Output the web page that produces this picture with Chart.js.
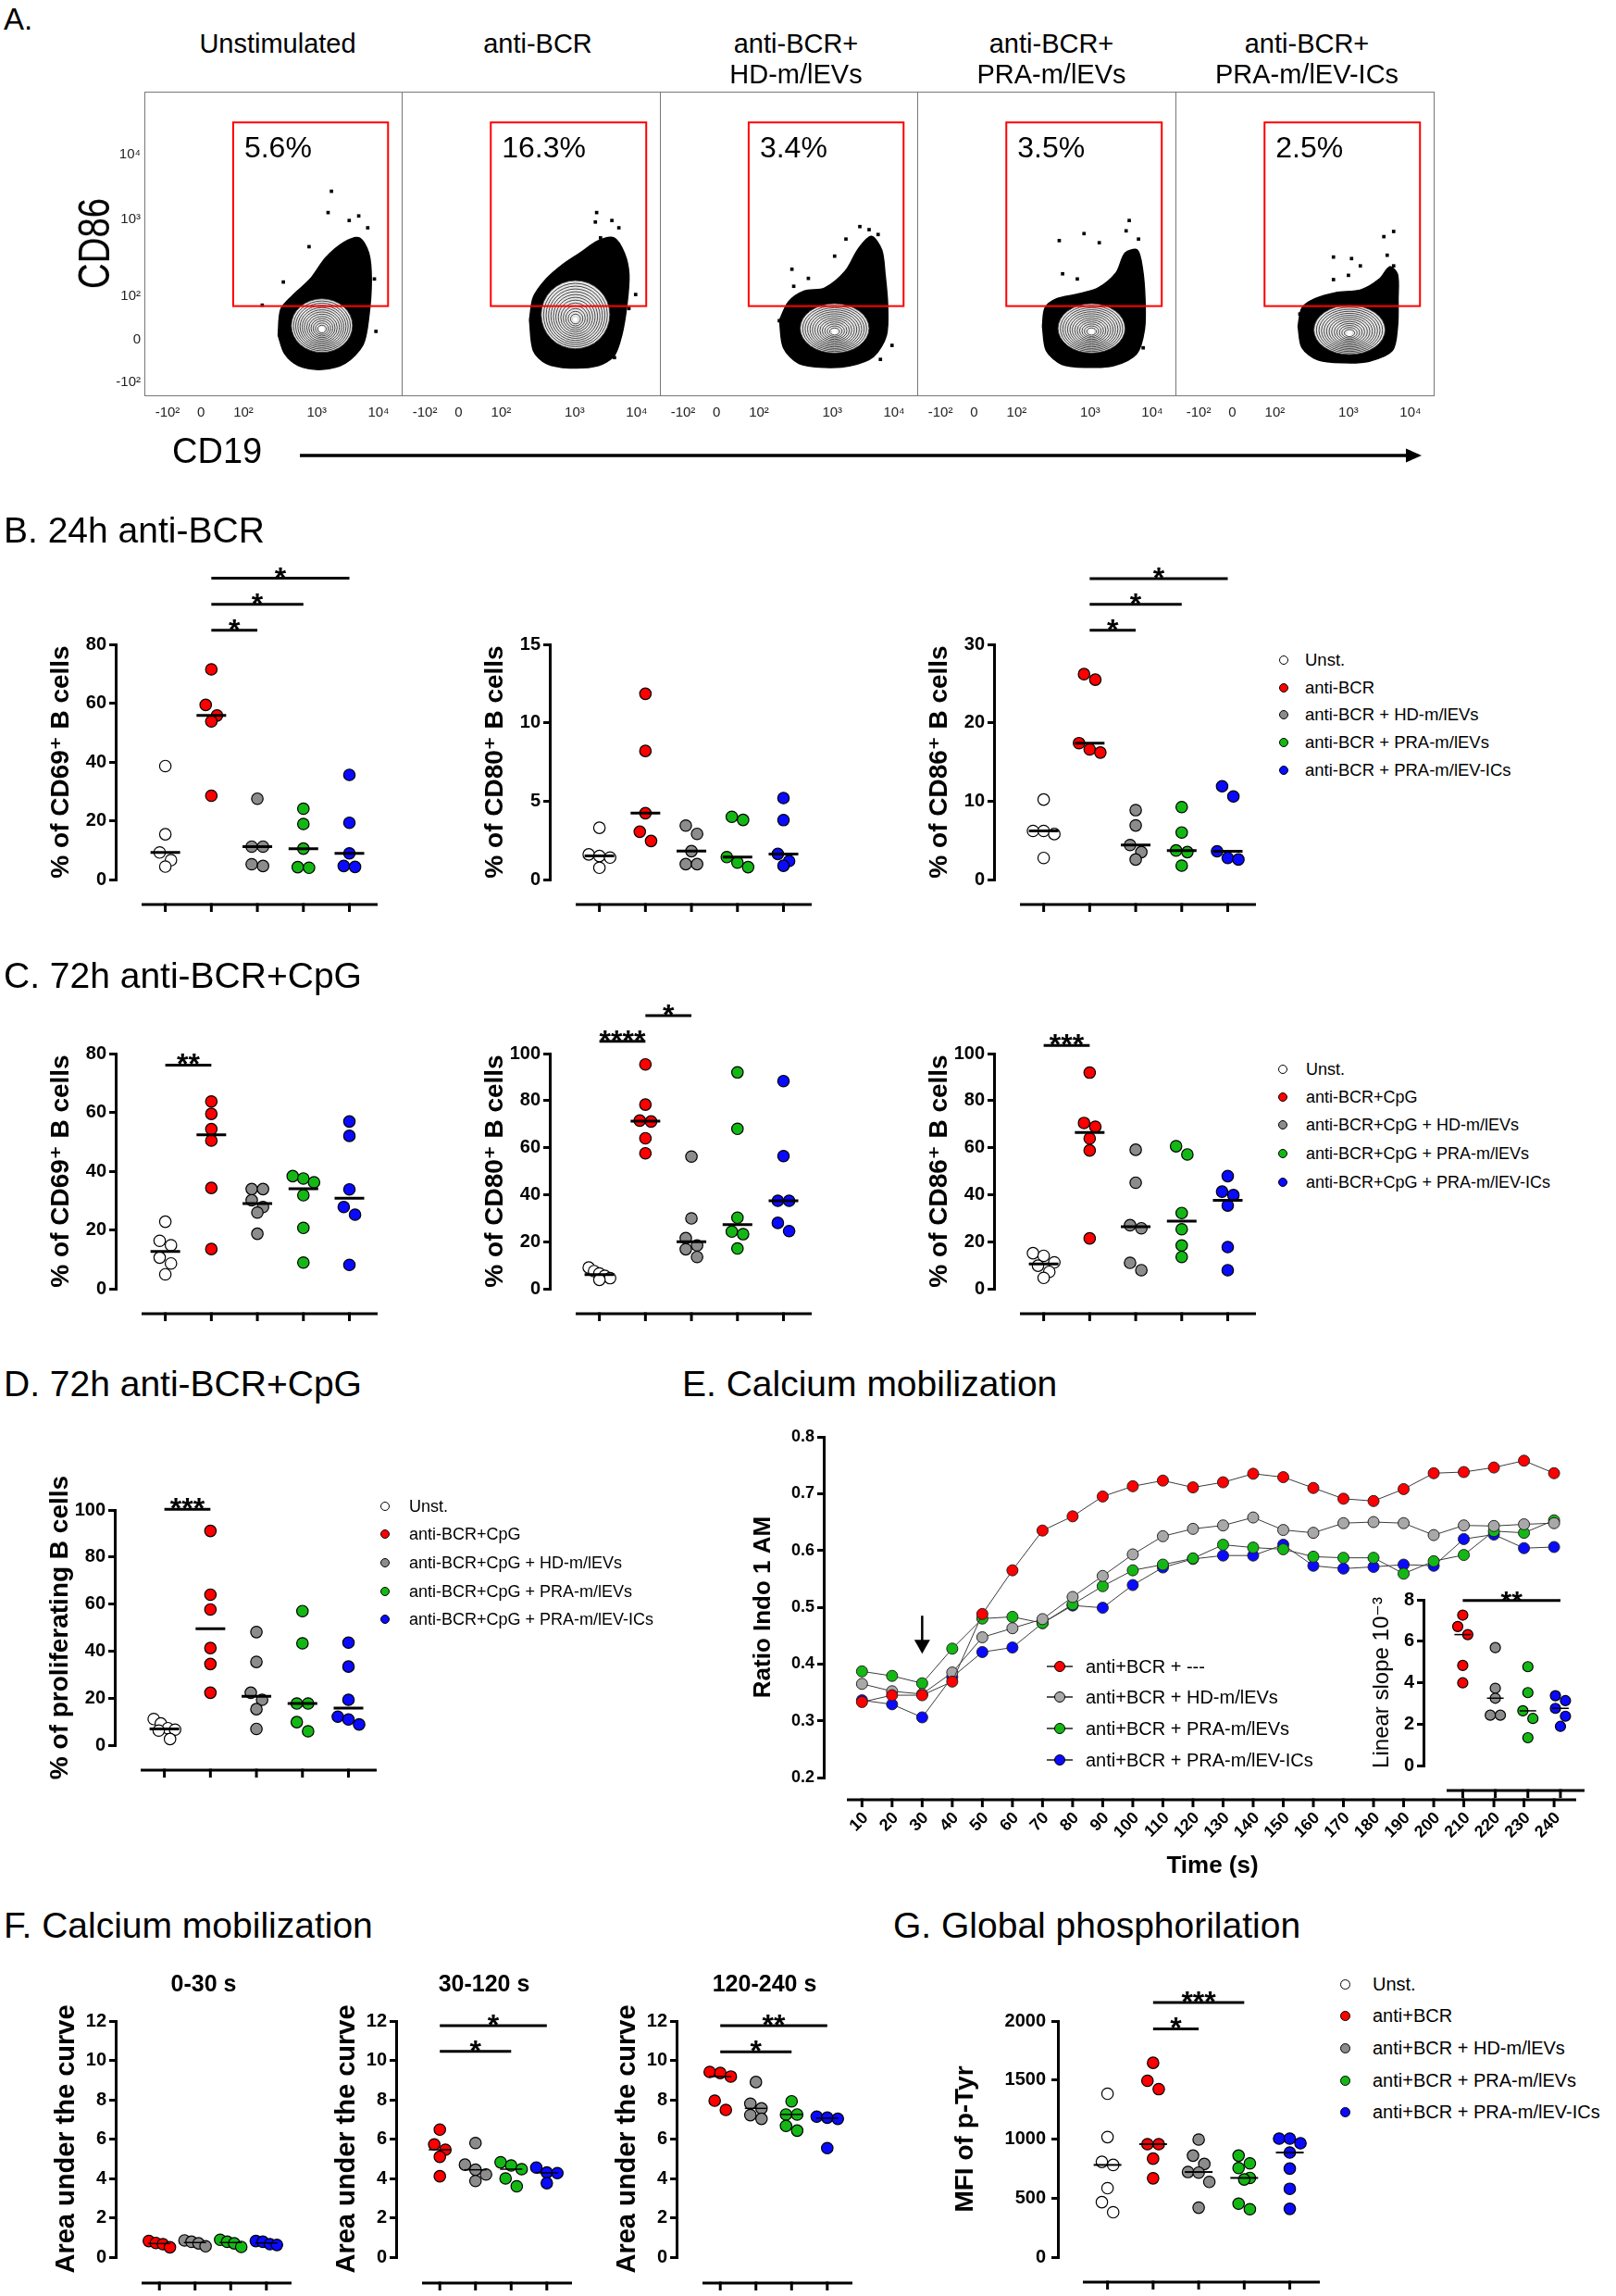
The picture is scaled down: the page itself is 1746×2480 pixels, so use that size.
<!DOCTYPE html>
<html>
<head>
<meta charset="utf-8">
<script src="https://cdn.jsdelivr.net/npm/chart.js@4.4.1/dist/chart.umd.min.js"></script>
<style>
  body { margin: 0; background: #fff; }
  #page { position: relative; width: 1746px; height: 2480px; overflow: hidden; background: #fff;
          font-family: 'Liberation Sans', Arial, 'DejaVu Sans', sans-serif; color: #000; }
  canvas { position: absolute; }
  .t { position: absolute; white-space: nowrap; line-height: 1; }
</style>
</head>
<body>
<div id="page"></div>
<script>
const FONT = "'Liberation Sans', Arial, 'DejaVu Sans', sans-serif";
Chart.defaults.font.family = FONT;
Chart.defaults.color = '#000';

// ---------- A. flow cytometry (values in display units 0-1000 of the biexponential axes)
const flowTitles = [['Unstimulated'], ['anti-BCR'], ['anti-BCR+', 'HD-m/lEVs'], ['anti-BCR+', 'PRA-m/lEVs'], ['anti-BCR+', 'PRA-m/lEV-ICs']];
const flowPct = ['5.6%', '16.3%', '3.4%', '3.5%', '2.5%'];
const flowXTicks = [90, 220, 385, 670, 910];
const flowYTicks = [45, 187, 329, 582, 795];
const flowTickLabels = ['-10²', '0', '10²', '10³', '10⁴'];
const gateX = [345, 947];
const gateY = [296, 899];
const cloudUnst = [[520,200],[545,140],[600,100],[690,88],[780,108],[850,170],[872,260],[882,380],[872,470],[835,520],[775,505],[705,455],[645,385],[575,330],[530,285],[520,200]];
const cloudBcr = [[495,250],[510,150],[560,108],[650,93],[760,100],[822,132],[852,200],[872,300],[880,400],[862,470],[822,520],[760,510],[690,470],[620,430],[560,385],[510,325],[495,250]];
const cloudHd = [[465,250],[480,160],[540,108],[640,95],[740,100],[830,130],[880,200],[885,300],[875,400],[862,480],[822,525],[772,485],[720,410],[640,355],[560,345],[500,310],[465,250]];
const cloudPra = [[485,230],[500,150],[560,105],[660,95],[760,100],[850,140],[880,220],[882,320],[872,420],[852,480],[805,470],[770,405],[700,355],[620,335],[540,320],[495,290],[485,230]];
const cloudIcs = [[475,230],[490,160],[550,120],[650,110],[750,115],[840,150],[860,230],[862,320],[860,400],[830,425],[790,385],[720,350],[620,340],[540,320],[490,290],[475,230]];
const dotsUnst = [[727,673],[714,603],[833,592],[796,577],[868,553],[640,491],[540,375],[894,385],[458,299],[900,213]];
const dotsBcr = [[755,603],[814,577],[841,553],[750,572],[770,520],[906,334],[880,288],[824,127],[530,340]];
const dotsHd = [[777,557],[813,547],[848,531],[723,516],[679,460],[513,417],[577,387],[520,361],[902,167],[857,121],[464,248]];
const dotsPra = [[821,577],[809,543],[646,534],[550,511],[705,504],[857,516],[563,402],[620,385],[536,137],[875,159]];
const dotsIcs = [[845,541],[807,524],[820,463],[612,457],[682,452],[716,428],[845,428],[612,383],[670,397],[482,270]];
const coreUnst = [690, 232, 119, 88];
const coreBcr = [673, 268, 133, 112];
const coreHd = [679, 223, 134, 81];
const corePra = [675, 223, 130, 81];
const coreIcs = [674, 218, 138, 81];

// ---------- B. 24h anti-BCR
const b69 = [[38.6,15.4,9.2,6.6,4.4],[71.5,59.4,55.8,53.8,28.5],[27.5,11.2,11.2,5.2,4.6],[24.1,18.9,10.5,4.2,4.0],[35.6,19.3,8.9,4.6,4.3]];
const b80 = [[3.3,1.6,1.5,1.4,0.75],[11.85,8.2,4.23,3.05,2.46],[3.44,2.91,1.81,0.98,0.98],[4.0,3.8,1.43,1.08,0.79],[5.2,3.79,1.63,1.18,0.88]];
const b86 = [[10.2,6.2,6.2,5.8,2.75],[26.2,25.5,17.4,16.6,16.2],[8.85,6.9,4.4,3.5,2.55],[9.24,6.0,3.7,3.5,1.77],[11.9,10.6,3.6,2.75,2.55]];
const sigB69 = [[1,2,84.8,'*'],[1,3,93.6,'*'],[1,4,102.5,'*']];
const sigB86 = [[1,2,31.8,'*'],[1,3,35.1,'*'],[1,4,38.4,'*']];

// ---------- C. 72h anti-BCR+CpG
const c69 = [[22.8,16.3,14.8,10.6,8.6,4.9],[63.7,59.5,54.3,50.4,34.3,13.5],[33.9,33.9,30.1,27.8,25.9,18.7],[38.3,37.5,36.2,31.8,20.7,8.9],[56.9,52.0,33.8,27.8,25.2,8.1]];
const c80 = [[9.0,7.5,6.5,5.5,4.5,3.8],[95.4,78.3,71.5,71.1,64.0,57.6],[56.2,29.9,21.5,18.4,16.8,13.5],[92.0,68.0,30.2,24.3,23.2,17.1],[88.3,56.4,37.4,37.4,28.0,24.5]];
const c86 = [[15.1,14.0,11.2,9.8,7.2,4.6],[91.9,70.5,68.9,63.9,58.8,21.4],[59.1,45.1,27.0,25.7,11.0,7.9],[60.6,57.1,32.2,25.3,18.4,13.5],[47.9,41.3,39.8,35.4,17.7,7.9]];
const sigC69 = [[0,1,76.1,'**']];
const sigC80 = [[0,1,105.2,'****'],[1,2,116.1,'*']];
const sigC86 = [[0,1,103.4,'***']];

// ---------- D. proliferation
const dProlif = [[11.1,9.2,7.2,6.6,6.2,2.6],[91.1,64.0,57.7,41.3,34.5,22.3],[48.1,35.4,22.3,19.3,15.3,6.9],[57.0,43.3,17.7,17.7,9.8,5.9],[43.6,33.4,19.3,12.1,10.9,8.8]];
const sigD = [[0,1,100.3,'***']];

// ---------- E. calcium mobilization
const timesE = [10,20,30,40,50,60,70,80,90,100,110,120,130,140,150,160,170,180,190,200,210,220,230,240];
const eRed = [0.333,0.345,0.345,0.369,0.488,0.565,0.635,0.660,0.695,0.713,0.723,0.711,0.720,0.735,0.729,0.710,0.691,0.687,0.708,0.736,0.738,0.746,0.758,0.736];
const eGray = [0.365,0.352,0.347,0.385,0.447,0.463,0.479,0.518,0.555,0.593,0.625,0.638,0.644,0.658,0.636,0.631,0.648,0.650,0.648,0.627,0.644,0.643,0.646,0.648];
const eGreen = [0.387,0.379,0.366,0.427,0.480,0.483,0.472,0.505,0.537,0.565,0.575,0.586,0.610,0.605,0.602,0.589,0.587,0.587,0.559,0.581,0.592,0.634,0.631,0.653];
const eBlue = [0.336,0.329,0.306,0.377,0.421,0.429,0.472,0.503,0.499,0.539,0.570,0.585,0.591,0.591,0.610,0.573,0.568,0.571,0.575,0.573,0.620,0.628,0.604,0.606];
const arrowE = [30, 0.485, 0.418];
const eSlope = [[7.26,6.71,6.32,4.83,3.99],[5.69,3.73,3.25,2.43,2.43],[4.77,3.52,2.64,2.27,1.34],[3.37,3.13,2.76,2.38,1.89]];
const sigE = [[0,3,7.97,'**']];

// ---------- F. area under the curve
const auc0to30 = [[0.82,0.72,0.66,0.5],[0.85,0.78,0.7,0.55],[0.88,0.78,0.7,0.52],[0.82,0.78,0.66,0.62]];
const auc30to120 = [[6.48,5.73,5.46,5.1,4.11],[5.8,4.7,4.44,4.2,3.87],[4.82,4.66,4.47,4.0,3.6],[4.55,4.3,4.27,3.76]];
const auc120to240 = [[9.41,9.36,9.18,7.95,7.48],[8.9,7.8,7.56,7.22,7.03],[7.92,7.25,7.25,6.67,6.43],[7.14,7.09,7.03,5.54]];
const sigF2 = [[0,3,11.76,'*'],[0,2,10.46,'*']];
const sigF3 = [[0,3,11.76,'**'],[0,2,10.43,'*']];

// ---------- G. p-Tyr
const gPtyr = [[1384,1017,807,781,584,466,380],[1646,1494,1423,957,957,834,668],[996,860,789,721,716,637,419],[860,794,755,671,658,453,406],[1004,1004,965,886,750,579,409]];
const sigG = [[1,3,2157,'***'],[1,2,1934,'*']];

const COLS = ['#ffffff', '#ff0000', '#8c8c8c', '#14b814', '#0a0aff'];
const E_COLS = ['#ff0000', '#a8a8a8', '#14b814', '#0a0aff'];

const page = document.getElementById('page');
const cfgs = new Map();

function canvasAt(l, t, w, h) {
  const c = document.createElement('canvas');
  c.width = w; c.height = h;
  c.style.left = l + 'px'; c.style.top = t + 'px';
  c.style.width = w + 'px'; c.style.height = h + 'px';
  page.appendChild(c);
  return c;
}

function label(str, x, capTop, size, o = {}) {
  const el = document.createElement('div');
  el.className = 't';
  el.textContent = str;
  el.style.fontSize = size + 'px';
  el.style.left = x + 'px';
  el.style.top = (capTop - 0.13 * size) + 'px';
  if (o.bold) el.style.fontWeight = 'bold';
  if (o.center) el.style.transform = 'translateX(-50%)';
  page.appendChild(el);
  return el;
}

function legend(items, colors, mx, tx, rows, size, r, withLine) {
  items.forEach((txt, k) => {
    if (withLine) {
      const ln = document.createElement('div');
      Object.assign(ln.style, {position: 'absolute', left: (mx - 14) + 'px', top: (rows[k] - 0.6) + 'px', width: '28px', height: '1.2px', background: '#555'});
      page.appendChild(ln);
    }
    const dot = document.createElement('div');
    Object.assign(dot.style, {position: 'absolute', left: (mx - r) + 'px', top: (rows[k] - r) + 'px', width: (2 * r) + 'px', height: (2 * r) + 'px',
      borderRadius: '50%', background: colors[k], border: '1px solid #000', boxSizing: 'border-box'});
    page.appendChild(dot);
    label(txt, tx, rows[k] - 0.358 * size, size);
  });
}

function median(a) {
  const s = [...a].sort((p, q) => p - q), n = s.length;
  return n % 2 ? s[(n - 1) / 2] : (s[n / 2 - 1] + s[n / 2]) / 2;
}

// GraphPad-like scatter: points closer than a bin height share a row and are spread symmetrically (px offsets)
function swarm(vals, pxY, d) {
  const idx = vals.map((v, i) => i).sort((a, b) => vals[b] - vals[a]);
  const off = new Array(vals.length).fill(0);
  const binH = 0.85 * d;
  let bin = [];
  const flush = () => {
    const n = bin.length;
    const sp = n > 1 ? Math.min(0.9 * d, 1.7 * d / (n - 1)) : 0;
    bin.forEach((i, j) => { off[i] = (j - (n - 1) / 2) * sp; });
    bin = [];
  };
  idx.forEach(i => {
    if (bin.length && (vals[bin[0]] - vals[i]) * pxY > binH) flush();
    bin.push(i);
  });
  if (bin.length) flush();
  return off;
}

// medians, detached x axis, significance bars, arrow
const prism = {
  id: 'prism',
  afterDatasetsDraw(chart) {
    const o = cfgs.get(chart.canvas);
    if (!o) return;
    const {ctx, chartArea: ca} = chart;
    const x = chart.scales.x, y = chart.scales.y;
    const line = (x0, y0, x1, y1) => { ctx.beginPath(); ctx.moveTo(x0, y0); ctx.lineTo(x1, y1); ctx.stroke(); };
    ctx.save();
    ctx.strokeStyle = '#000'; ctx.fillStyle = '#000'; ctx.lineCap = 'butt';
    if (o.medians) {
      ctx.lineWidth = o.medLW;
      o.medians.forEach((m, g) => {
        const px = x.getPixelForValue(g), py = y.getPixelForValue(m);
        line(px - o.medHalf, py, px + o.medHalf, py);
      });
    }
    const by = ca.bottom + o.gap;
    ctx.lineWidth = 3;
    line(ca.left + o.lineStart, by, ca.left + o.lineEnd, by);
    o.xticks.forEach(v => { const px = x.getPixelForValue(v); line(px, by - 1.5, px, by + 8); });
    if (o.xlabels) {
      ctx.font = 'bold 18px ' + FONT;
      ctx.textAlign = 'right'; ctx.textBaseline = 'middle';
      o.xticks.forEach((v, k) => {
        const px = x.getPixelForValue(v);
        ctx.save(); ctx.translate(px + 4, by + 17); ctx.rotate(-Math.PI / 4);
        ctx.fillText(o.xlabels[k], 0, 0); ctx.restore();
      });
    }
    (o.sig || []).forEach(([g1, g2, lev, stars]) => {
      const x1 = x.getPixelForValue(g1), x2 = x.getPixelForValue(g2), py = y.getPixelForValue(lev);
      ctx.lineWidth = 3;
      line(x1, py, x2, py);
      ctx.font = 'bold ' + (o.starSize || 32) + 'px ' + FONT;
      ctx.textAlign = 'center'; ctx.textBaseline = 'alphabetic';
      ctx.fillText(stars, (x1 + x2) / 2, py + 10);
    });
    if (o.arrow) {
      const [t, v0, v1] = o.arrow;
      const ax = x.getPixelForValue(t), ay0 = y.getPixelForValue(v0), ay1 = y.getPixelForValue(v1);
      ctx.lineWidth = 2.5;
      line(ax, ay0, ax, ay1 - 12);
      ctx.beginPath(); ctx.moveTo(ax - 8.5, ay1 - 15); ctx.lineTo(ax + 8.5, ay1 - 15); ctx.lineTo(ax, ay1); ctx.closePath(); ctx.fill();
    }
    ctx.restore();
  }
};

function plotBox(o, datasets) {
  const c = canvasAt(o.A - o.YW, o.yTop - o.PT, o.YW + o.CW, o.PT + (o.yBot - o.yTop) + o.PB);
  cfgs.set(c, o);
  return new Chart(c, {
    type: 'scatter',
    data: {datasets},
    options: {
      responsive: false, animation: false, devicePixelRatio: 1, events: [],
      layout: {padding: {top: o.PT, bottom: o.PB, left: 0, right: 0}},
      plugins: {legend: {display: false}, tooltip: {enabled: false}},
      scales: {
        x: {type: 'linear', display: false, min: o.xmin, max: o.xmax},
        y: {
          type: 'linear', min: o.min || 0, max: o.max,
          afterFit: s => { s.width = o.YW; },
          ticks: {stepSize: o.step, padding: o.tickPad || 3, color: '#000', font: {size: o.tickSize || 20, weight: 'bold'}, callback: o.fmt || (v => v)},
          grid: {drawOnChartArea: false, drawTicks: true, tickLength: 7, lineWidth: 3, color: '#000'},
          border: {display: true, width: 3, color: '#000'},
          title: {display: true, text: o.title, color: '#000', font: {size: o.titleSize, weight: o.titleWeight || 'bold'},
                  padding: {top: o.YW - o.titleOff - o.titleSize * 0.6, bottom: 0}}
        }
      }
    },
    plugins: [prism]
  });
}

function dotPlot(o) {
  const min = o.min || 0;
  const pxY = (o.yBot - o.yTop) / (o.max - min);
  const d = 2 * o.r + 1.5;
  const datasets = o.groups.map((vals, g) => {
    const off = swarm(vals, pxY, d);
    return {data: vals.map((v, i) => ({x: g + off[i] / o.catSpace, y: v})), pointRadius: o.r, pointHoverRadius: o.r,
            backgroundColor: o.colors[g], borderColor: '#000', borderWidth: 1.2, clip: false};
  });
  o.CW = o.lineEnd + 12;
  o.xmin = -o.catStart / o.catSpace;
  o.xmax = (o.CW - o.catStart) / o.catSpace;
  o.medians = o.groups.map(median);
  o.xticks = o.groups.map((v, g) => g);
  return plotBox(o, datasets);
}

// ---------- flow plots
const flowPlug = {
  id: 'flow',
  afterDatasetsDraw(chart) {
    const o = cfgs.get(chart.canvas);
    if (!o) return;
    const {ctx, chartArea: ca} = chart;
    const x = chart.scales.x, y = chart.scales.y;
    ctx.save();
    const [cx, cy, rx, ry] = o.core;
    const px = x.getPixelForValue(cx), py = y.getPixelForValue(cy);
    const prx = x.getPixelForValue(cx + rx) - px, pry = py - y.getPixelForValue(cy + ry);
    ctx.fillStyle = '#e8e8e8';
    ctx.beginPath(); ctx.ellipse(px, py, prx, pry, 0, 0, 2 * Math.PI); ctx.fill();
    ctx.strokeStyle = '#333'; ctx.lineWidth = 0.9;
    const n = 14;
    for (let k = 0; k < n; k++) {
      const f = 1 - k / n;
      ctx.beginPath(); ctx.ellipse(px, py + (1 - f) * pry * 0.15, prx * f, pry * f, 0, 0, 2 * Math.PI); ctx.stroke();
    }
    ctx.fillStyle = '#fff';
    ctx.beginPath(); ctx.ellipse(px, py + pry * 0.14, 3, 3, 0, 0, 2 * Math.PI); ctx.fill();
    const gx0 = x.getPixelForValue(gateX[0]), gx1 = x.getPixelForValue(gateX[1]);
    const gy0 = y.getPixelForValue(gateY[0]), gy1 = y.getPixelForValue(gateY[1]);
    ctx.strokeStyle = '#ff0000'; ctx.lineWidth = 2;
    ctx.strokeRect(gx0, gy1, gx1 - gx0, gy0 - gy1);
    ctx.fillStyle = '#000'; ctx.font = '32px ' + FONT; ctx.textBaseline = 'alphabetic'; ctx.textAlign = 'left';
    ctx.fillText(o.pct, gx0 + 12, gy1 + 38);
    ctx.strokeStyle = '#777'; ctx.lineWidth = 1;
    ctx.strokeRect(ca.left + 0.5, ca.top + 0.5, ca.right - ca.left, ca.bottom - ca.top - 1);
    ctx.restore();
  }
};

const flowLefts = [156, 434, 713, 991, 1270, 1549];
function flowChart(i, cloud, dots, core) {
  const bl = flowLefts[i], bw = flowLefts[i + 1] - bl;
  const YW = i === 0 ? 60 : 0, PT = 14, XH = 40, SIDE = 24;
  const c = canvasAt(bl - YW - SIDE, 99 - PT, YW + bw + 2 * SIDE, PT + 329 + XH);
  cfgs.set(c, {core, pct: flowPct[i]});
  new Chart(c, {
    type: 'scatter',
    data: {datasets: [
      {data: dots.map(([px, py]) => ({x: px, y: py})), pointStyle: 'rect', pointRadius: 2.6, backgroundColor: '#000', borderWidth: 0, clip: false},
      {data: cloud.map(([px, py]) => ({x: px, y: py})), showLine: true, fill: 'shape', backgroundColor: '#000', borderColor: '#000',
       borderWidth: 1.5, pointRadius: 0, tension: 0.3, clip: false}
    ]},
    options: {
      responsive: false, animation: false, devicePixelRatio: 1, events: [],
      layout: {padding: {top: PT, bottom: 0, left: SIDE, right: SIDE}},
      plugins: {legend: {display: false}, tooltip: {enabled: false}},
      scales: {
        x: {type: 'linear', min: 0, max: 1000,
            afterBuildTicks: s => { s.ticks = flowXTicks.map(v => ({value: v})); },
            afterFit: s => { s.height = XH; },
            ticks: {autoSkip: false, maxRotation: 0, padding: 9, color: '#222', font: {size: 15}, callback: (v, k) => flowTickLabels[k]},
            grid: {display: false, drawTicks: false}, border: {display: false}},
        y: {type: 'linear', display: i === 0, min: 0, max: 1000,
            afterBuildTicks: s => { s.ticks = flowYTicks.map(v => ({value: v})); },
            afterFit: s => { s.width = YW; },
            ticks: {autoSkip: false, padding: 4, color: '#222', font: {size: 15}, callback: (v, k) => flowTickLabels[k]},
            grid: {display: false, drawTicks: false}, border: {display: false}}
      }
    },
    plugins: [flowPlug]
  });
}

flowChart(0, cloudUnst, dotsUnst, coreUnst);
flowChart(1, cloudBcr, dotsBcr, coreBcr);
flowChart(2, cloudHd, dotsHd, coreHd);
flowChart(3, cloudPra, dotsPra, corePra);
flowChart(4, cloudIcs, dotsIcs, coreIcs);

label('A.', 4, 8, 33);
const headX = [300, 581, 860, 1136, 1412];
flowTitles.forEach((lines, i) => {
  lines.forEach((s, k) => label(s, headX[i], 37 + k * 33, 29, {center: true}));
});
const cd86 = label('CD86', 102, 0, 48);
cd86.style.top = '263px';
cd86.style.transform = 'translate(-50%, -50%) rotate(-90deg) scaleX(0.8)';
label('CD19', 186, 473, 38);
page.insertAdjacentHTML('beforeend',
  '<svg style="position:absolute;left:320px;top:480px" width="1230" height="24">' +
  '<line x1="4" y1="12" x2="1202" y2="12" stroke="#000" stroke-width="3.5"/>' +
  '<polygon points="1199,4.5 1216,12 1199,19.5" fill="#000"/></svg>');

// ---------- B / C / D
const bcd = {YW: 110, PB: 50, catStart: 55, catSpace: 51, lineStart: 28, lineEnd: 283, gap: 27, r: 6.2,
             medLW: 3, medHalf: 16, titleSize: 28, titleOff: 59, colors: COLS};
dotPlot({...bcd, A: 125, yTop: 696, yBot: 950, PT: 120, max: 80, step: 20, groups: b69, title: '% of CD69⁺ B cells', sig: sigB69});
dotPlot({...bcd, A: 594, yTop: 696, yBot: 950, PT: 120, max: 15, step: 5, groups: b80, title: '% of CD80⁺ B cells'});
dotPlot({...bcd, A: 1074, yTop: 696, yBot: 950, PT: 120, max: 30, step: 10, groups: b86, title: '% of CD86⁺ B cells', sig: sigB86});
dotPlot({...bcd, A: 125, yTop: 1138, yBot: 1392, PT: 90, max: 80, step: 20, groups: c69, title: '% of CD69⁺ B cells', sig: sigC69});
dotPlot({...bcd, A: 594, yTop: 1138, yBot: 1392, PT: 90, max: 100, step: 20, groups: c80, title: '% of CD80⁺ B cells', sig: sigC80});
dotPlot({...bcd, A: 1074, yTop: 1138, yBot: 1392, PT: 90, max: 100, step: 20, groups: c86, title: '% of CD86⁺ B cells', sig: sigC86});
dotPlot({...bcd, A: 124, yTop: 1631, yBot: 1885, PT: 60, max: 100, step: 20, groups: dProlif, title: '% of proliferating B cells', sig: sigD});

label('B. 24h anti-BCR', 4, 558, 39);
label('C. 72h anti-BCR+CpG', 4, 1039, 39);
label('D. 72h anti-BCR+CpG', 4, 1480, 39);
label('E. Calcium mobilization', 737, 1480, 39);
label('F. Calcium mobilization', 4, 2065, 39);
label('G. Global phosphorilation', 965, 2065, 39);

const bcrItems = ['Unst.', 'anti-BCR', 'anti-BCR + HD-m/lEVs', 'anti-BCR + PRA-m/lEVs', 'anti-BCR + PRA-m/lEV-ICs'];
const cpgItems = ['Unst.', 'anti-BCR+CpG', 'anti-BCR+CpG + HD-m/lEVs', 'anti-BCR+CpG + PRA-m/lEVs', 'anti-BCR+CpG + PRA-m/lEV-ICs'];
legend(bcrItems, COLS, 1387, 1410, [713, 743, 772, 802, 832], 18.5, 5);
legend(cpgItems, COLS, 1386, 1411, [1155, 1185, 1215, 1246, 1277], 18, 5);
legend(cpgItems, COLS, 416, 442, [1627, 1657, 1688, 1719, 1749], 18, 5);

// ---------- E. time course
const eSeries = [eRed, eGray, eGreen, eBlue];
const eSets = eSeries.map((s, k) => ({
  data: s.map((v, i) => ({x: timesE[i], y: v})), showLine: true, borderColor: '#3c3c3c', borderWidth: 1,
  pointRadius: 6, pointHoverRadius: 6, backgroundColor: E_COLS[k], pointBackgroundColor: E_COLS[k],
  pointBorderColor: '#222', pointBorderWidth: 1, clip: false
}));
plotBox({A: 890, yTop: 1552, yBot: 1920, PT: 20, PB: 85, YW: 100, CW: 813, xmin: -2.71, xmax: 245.2,
         min: 0.2, max: 0.8, step: 0.1, fmt: v => v.toFixed(1), tickSize: 18, title: 'Ratio Indo 1 AM', titleSize: 26, titleOff: 65,
         lineStart: 25, lineEnd: 813, gap: 24, xticks: timesE, xlabels: timesE.map(String), arrow: arrowE}, eSets);
label('Time (s)', 1310, 2004, 26, {bold: true, center: true});
legend(['anti+BCR + ---', 'anti+BCR + HD-m/lEVs', 'anti+BCR + PRA-m/lEVs', 'anti+BCR + PRA-m/lEV-ICs'], E_COLS,
       1145, 1173, [1800, 1833, 1867, 1901], 20, 6, true);

// inset: linear slope
dotPlot({A: 1538, yTop: 1728, yBot: 1907, PT: 40, PB: 40, YW: 75, max: 8, step: 2, groups: eSlope, colors: COLS.slice(1),
         catStart: 44, catSpace: 36.5, lineStart: 25, lineEnd: 174, gap: 27, r: 5.5, medLW: 1.5, medHalf: 9,
         title: 'Linear slope 10⁻³', titleSize: 24, titleWeight: 'normal', titleOff: 45, starSize: 30, sig: sigE});

// ---------- F
const fOpt = {yTop: 2183, yBot: 2438, PT: 40, PB: 42, YW: 100, max: 12, step: 2, colors: COLS.slice(1), catStart: 49, catSpace: 40,
              lineStart: 28, lineEnd: 190, gap: 28, r: 6.2, medLW: 1.5, medHalf: 12, title: 'Area under the curve', titleSize: 29, titleOff: 53};
dotPlot({...fOpt, A: 125, groups: auc0to30});
dotPlot({...fOpt, A: 428, groups: auc30to120, sig: sigF2});
dotPlot({...fOpt, A: 731, groups: auc120to240, sig: sigF3});
label('0-30 s', 220, 2133, 25, {bold: true, center: true});
label('30-120 s', 523, 2133, 25, {bold: true, center: true});
label('120-240 s', 826, 2133, 25, {bold: true, center: true});

// ---------- G
dotPlot({A: 1143, yTop: 2183, yBot: 2438, PT: 60, PB: 42, YW: 140, max: 2000, step: 500, groups: gPtyr, colors: COLS,
         catStart: 55, catSpace: 50.5, lineStart: 27, lineEnd: 283, gap: 27, r: 6.2, medLW: 2, medHalf: 15, tickPad: 6,
         title: 'MFI of p-Tyr', titleSize: 28, titleOff: 100, sig: sigG});
legend(['Unst.', 'anti+BCR', 'anti+BCR + HD-m/lEVs', 'anti+BCR + PRA-m/lEVs', 'anti+BCR + PRA-m/lEV-ICs'], COLS,
       1453, 1483, [2143, 2177, 2212, 2247, 2281], 20, 5.5);
</script>
</body>
</html>
